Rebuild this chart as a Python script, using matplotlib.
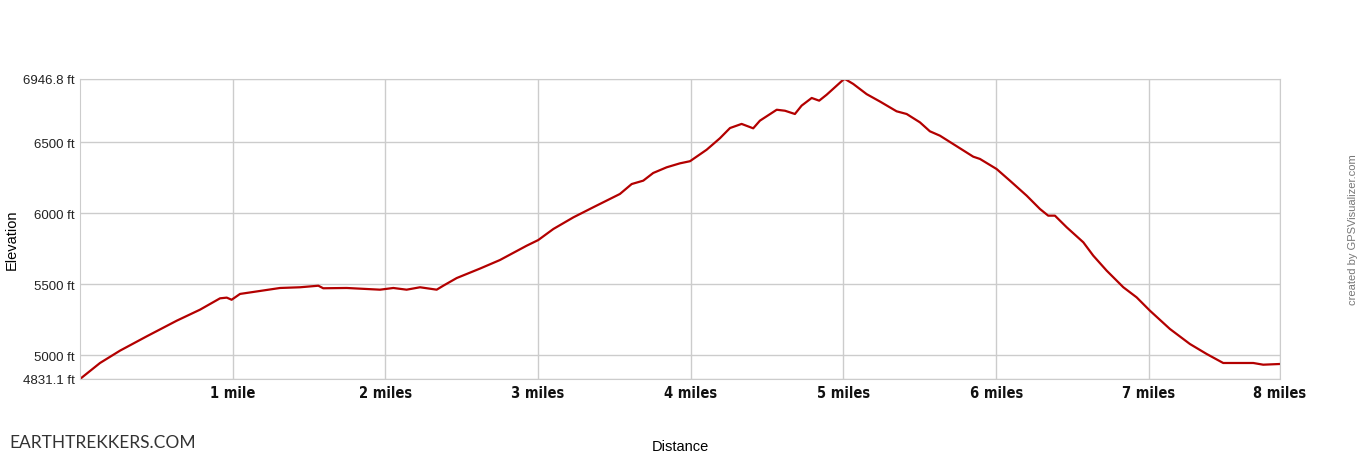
import matplotlib
matplotlib.use("Agg")
import matplotlib.pyplot as plt

# elevation profile (distance in miles, elevation in ft)
miles = [0.000, 0.131, 0.262, 0.437, 0.633, 0.786, 0.917, 0.961, 0.993, 1.048,
         1.179, 1.310, 1.441, 1.561, 1.593, 1.747, 1.965, 2.052, 2.139, 2.227,
         2.336, 2.379, 2.467, 2.620, 2.750, 2.925, 3.001, 3.100, 3.231, 3.361,
         3.536, 3.613, 3.689, 3.754, 3.842, 3.929, 3.995, 4.104, 4.147, 4.191,
         4.257, 4.333, 4.409, 4.453, 4.563, 4.617, 4.682, 4.726, 4.792, 4.841,
         4.890, 4.999, 5.010, 5.064, 5.152, 5.239, 5.348, 5.414, 5.501, 5.566,
         5.632, 5.719, 5.850, 5.894, 6.003, 6.090, 6.200, 6.287, 6.341, 6.385,
         6.462, 6.571, 6.636, 6.724, 6.833, 6.920, 7.007, 7.138, 7.269, 7.378,
         7.487, 7.684, 7.749, 7.859]
elev_ft = [4831, 4944, 5031, 5132, 5242, 5320, 5400, 5405, 5390, 5431,
           5452, 5473, 5478, 5489, 5471, 5473, 5461, 5473, 5461, 5478,
           5461, 5489, 5543, 5610, 5670, 5771, 5811, 5889, 5971, 6042,
           6136, 6206, 6230, 6284, 6324, 6352, 6367, 6448, 6488, 6529,
           6601, 6630, 6599, 6653, 6730, 6723, 6700, 6759, 6813, 6794,
           6836, 6942, 6946.8, 6912, 6840, 6788, 6719, 6700, 6641, 6578,
           6547, 6488, 6399, 6383, 6312, 6230, 6124, 6030, 5983, 5983,
           5901, 5795, 5701, 5595, 5478, 5407, 5313, 5184, 5078, 5008,
           4944, 4944, 4932, 4937]

y_ticks = [4831.1, 5000, 5500, 6000, 6500, 6946.8]
y_labels = ["4831.1 ft", "5000 ft", "5500 ft", "6000 ft", "6500 ft", "6946.8 ft"]
x_ticks = [1, 2, 3, 4, 5, 6, 7, 7.859]
x_labels = ["1 mile", "2 miles", "3 miles", "4 miles", "5 miles", "6 miles", "7 miles", "8 miles"]

fig = plt.figure(figsize=(13.6, 4.6), dpi=100)
ax = fig.add_axes([80/1360, 1 - 380/460, 1200/1360, 300/460])

ax.plot(miles, elev_ft, color="#b30000", lw=1.6, solid_joinstyle="round")

ax.set_xlim(0, 7.859)
ax.set_ylim(4831.1, 6946.8)
ax.set_yticks(y_ticks)
ax.set_yticklabels(y_labels, family=["Liberation Sans", "DejaVu Sans"], fontsize=9.5,
                   color="#222222")
ax.set_xticks(x_ticks)
ax.set_xticklabels(x_labels, family="DejaVu Sans", fontstretch="condensed",
                   fontsize=10.5, fontweight="bold", color="#111111")
ax.tick_params(length=0, pad=4)
ax.tick_params(axis="x", pad=4)
ax.grid(True, color="#cccccc", lw=1)
ax.set_axisbelow(True)
for s in ax.spines.values():
    s.set_color("#cccccc")

fig.text(12/1360, 1 - 240/460, "Elevation", rotation=90, ha="center", va="center",
         family=["Liberation Sans", "DejaVu Sans"], fontsize=10.5)
fig.text(680/1360, 1 - 447/460, "Distance", ha="center", va="center",
         family=["Liberation Sans", "DejaVu Sans"], fontsize=10.5)
fig.text(1353/1360, 1 - 230/460, "created by GPSVisualizer.com", rotation=90,
         ha="center", va="center", color="#777777",
         family=["Liberation Sans", "DejaVu Sans"], fontsize=8)
fig.text(9/1360, 1 - 443/460, "EARTHTREKKERS.COM", ha="left", va="center",
         color="#333333", family=["Lato", "DejaVu Sans"], fontsize=12.5)

fig.savefig("out.png", dpi=100)
